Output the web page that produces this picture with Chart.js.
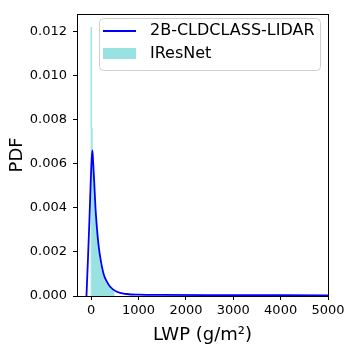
<!DOCTYPE html>
<html>
<head>
<meta charset="utf-8">
<script src="https://cdn.jsdelivr.net/npm/chart.js@4"></script>
<style>
  html, body { margin: 0; padding: 0; background: #fff; }
  #wrap { width: 352px; height: 352px; }
</style>
</head>
<body>
<div id="wrap"><canvas id="chart" width="352" height="352"></canvas></div>
<script>
// IResNet histogram: bin edges (g/m2) and densities
const histEdges = [0, 20, 40, 60, 80, 100, 120, 140, 160, 180, 200, 220, 240, 260, 280, 300,
  320, 340, 360, 380, 400, 420, 440, 460, 480, 500];
const histValues = [0.0122, 0.0076, 0.0058, 0.0050, 0.0043, 0.0035, 0.0029, 0.0024, 0.0020, 0.0017,
  0.0014, 0.0012, 0.0010, 0.00088, 0.00076, 0.00066, 0.00058, 0.00051, 0.00045, 0.00040,
  0.00036, 0.00032, 0.00028, 0.00025, 0.00022];

// 2B-CLDCLASS-LIDAR density curve
const kdeX = [-100, -70, -40, -10, 10, 25, 40, 63, 90, 120, 150, 190, 260, 330, 400, 540, 750,
  1000, 1500, 2500, 5000];
const kdeY = [0, 0.0016, 0.0033, 0.0052, 0.0062, 0.0066, 0.0061, 0.0052, 0.0040, 0.0031, 0.0024,
  0.00176, 0.00101, 0.00065, 0.00042, 0.00019, 0.00009, 0.00006, 0.00005, 0.00004, 0.00003];

const xTicks = [0, 1000, 2000, 3000, 4000, 5000];
const yTicks = [0, 0.002, 0.004, 0.006, 0.008, 0.010, 0.012];
const seriesNames = ['2B-CLDCLASS-LIDAR', 'IResNet'];

const FONT = 'DejaVu Sans';
const HIST_COLOR = 'rgb(152, 227, 226)';
const LINE_COLOR = '#0000ff';

function histPoints() {
  const pts = [{ x: histEdges[0], y: 0 }];
  histValues.forEach((v, i) => pts.push({ x: histEdges[i], y: v }));
  pts.push({ x: histEdges[histEdges.length - 1], y: 0 });
  return pts;
}

const frameAndLegend = {
  id: 'frameAndLegend',
  afterDatasetsDraw(chart) {
    const { ctx, chartArea: a } = chart;
    ctx.save();
    ctx.strokeStyle = '#000';
    ctx.lineWidth = 1;
    ctx.strokeRect(Math.round(a.left) + 0.5, Math.round(a.top) + 0.5,
      Math.round(a.right - a.left), Math.round(a.bottom - a.top));

    // legend box, upper right inside the axes
    const bx = 99, by = 18, bw = 221, bh = 52, r = 4;
    ctx.beginPath();
    ctx.roundRect(bx + 0.5, by + 0.5, bw, bh, r);
    ctx.fillStyle = 'rgba(255,255,255,0.8)';
    ctx.fill();
    ctx.strokeStyle = '#d0d0d0';
    ctx.lineWidth = 1;
    ctx.stroke();

    ctx.strokeStyle = LINE_COLOR;
    ctx.lineWidth = 1.8;
    ctx.beginPath();
    ctx.moveTo(103, 31);
    ctx.lineTo(136, 31);
    ctx.stroke();

    ctx.fillStyle = HIST_COLOR;
    ctx.fillRect(103, 48, 33, 11);

    ctx.fillStyle = '#000';
    ctx.font = `16px "${FONT}"`;
    ctx.textBaseline = 'middle';
    ctx.textAlign = 'left';
    ctx.fillText(seriesNames[0], 150, 31);
    ctx.fillText(seriesNames[1], 150, 54);
    ctx.restore();
  }
};

new Chart(document.getElementById('chart'), {
  type: 'line',
  data: {
    datasets: [
      {
        label: seriesNames[0],
        data: kdeX.map((x, i) => ({ x, y: kdeY[i] })),
        borderColor: LINE_COLOR,
        borderWidth: 1.8,
        pointRadius: 0,
        cubicInterpolationMode: 'monotone',
        fill: false,
        order: 0,
      },
      {
        label: seriesNames[1],
        data: histPoints(),
        stepped: 'after',
        borderWidth: 1,
        borderColor: HIST_COLOR,
        backgroundColor: HIST_COLOR,
        pointRadius: 0,
        fill: 'origin',
        order: 1,
      },
    ],
  },
  options: {
    responsive: false,
    animation: false,
    events: [],
    layout: { padding: { top: 10, right: 24, left: 0, bottom: 0 } },
    plugins: { legend: { display: false }, tooltip: { enabled: false } },
    scales: {
      x: {
        type: 'linear',
        min: -300,
        max: 5000,
        afterBuildTicks: (s) => { s.ticks = xTicks.map((v) => ({ value: v })); },
        afterFit: (s) => { s.height = 56; },
        ticks: {
          color: '#000',
          font: { family: FONT, size: 13 },
          padding: 3,
          maxRotation: 0,
          callback: (v) => String(v),
        },
        grid: { drawOnChartArea: false, drawTicks: true, tickLength: 4, tickColor: '#000' },
        border: { display: false },
        title: {
          display: true,
          text: 'LWP (g/m²)',
          color: '#000',
          font: { family: FONT, size: 18 },
          padding: { top: 0, bottom: 6 },
        },
      },
      y: {
        min: 0,
        max: 0.0128,
        afterBuildTicks: (s) => { s.ticks = yTicks.map((v) => ({ value: v })); },
        afterFit: (s) => { s.width = 77; },
        ticks: {
          color: '#000',
          font: { family: FONT, size: 13 },
          padding: 6,
          callback: (v) => v.toFixed(3),
        },
        grid: { drawOnChartArea: false, drawTicks: true, tickLength: 4, tickColor: '#000' },
        border: { display: false },
        title: {
          display: true,
          text: 'PDF',
          color: '#000',
          font: { family: FONT, size: 18 },
          padding: { top: 7, bottom: 0 },
        },
      },
    },
  },
  plugins: [frameAndLegend],
});
</script>
</body>
</html>
